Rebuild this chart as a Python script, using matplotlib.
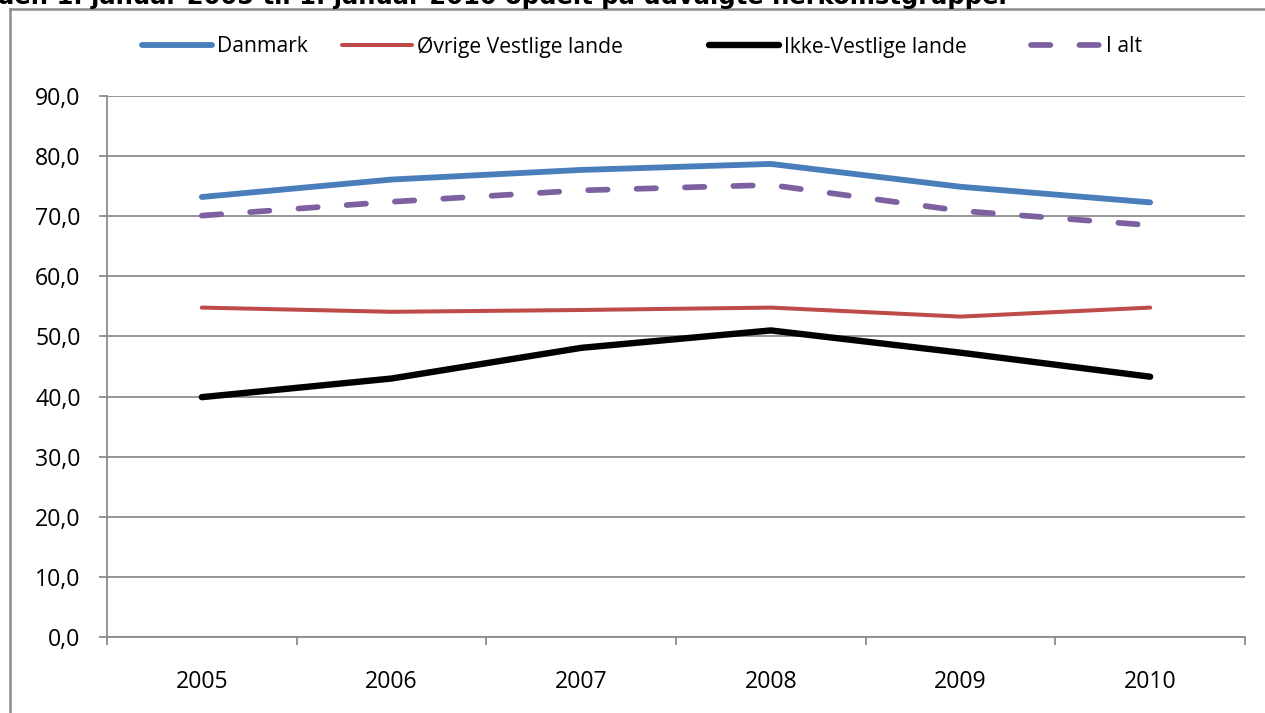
import matplotlib
matplotlib.use("Agg")
import matplotlib.pyplot as plt
from matplotlib.lines import Line2D

years = ["2005", "2006", "2007", "2008", "2009", "2010"]
danmark = [73.2, 76.1, 77.7, 78.7, 74.9, 72.3]
ovrige = [54.8, 54.1, 54.4, 54.8, 53.3, 54.8]
ikke_vestlige = [39.9, 43.0, 48.1, 51.0, 47.3, 43.3]
i_alt = [70.1, 72.4, 74.3, 75.2, 70.9, 68.5]
series_names = ["Danmark", "Øvrige Vestlige lande", "Ikke-Vestlige lande", "I alt"]
yticks = [0, 10, 20, 30, 40, 50, 60, 70, 80, 90]
title = "den 1. januar 2005 til 1. januar 2010 opdelt på udvalgte herkomstgrupper"

W, H = 1265, 713
fig = plt.figure(figsize=(W / 100, H / 100), dpi=100)
fig.patch.set_facecolor("white")

font = "Open Sans"
grid_c = "#8c8c8c"

# outer chart frame (left & top only visible)
fig.add_artist(Line2D([10 / W, 10 / W], [0, 1 - 9 / H], transform=fig.transFigure,
                      color=grid_c, lw=1.8))
fig.add_artist(Line2D([10 / W, 1], [1 - 9 / H, 1 - 9 / H], transform=fig.transFigure,
                      color=grid_c, lw=1.8))

# cut-off title (as in the reference, only its lower part is visible)
fig.text(-3 / W, 1 - 4 / H, title, fontsize=17.5, fontweight="bold",
         family="DejaVu Sans", va="baseline", ha="left", color="black")

ax = fig.add_axes([107 / W, (H - 637) / H, (1245 - 107) / W, (637 - 96) / H])
x = list(range(len(years)))

lines = []
lines += ax.plot(x, danmark, color="#4A7EBB", lw=4.2, solid_capstyle="round",
                 solid_joinstyle="round", label=series_names[0], zorder=3)
lines += ax.plot(x, ovrige, color="#BE4B48", lw=2.9, solid_capstyle="round",
                 solid_joinstyle="round", label=series_names[1], zorder=3)
lines += ax.plot(x, ikke_vestlige, color="black", lw=4.6, solid_capstyle="round",
                 solid_joinstyle="round", label=series_names[2], zorder=3)
lines += ax.plot(x, i_alt, color="#7D60A0", lw=4.1, dashes=(3.4, 5.1),
                 dash_capstyle="round", label=series_names[3], zorder=3)

ax.set_xlim(-0.5, len(years) - 0.5)
ax.set_ylim(0, 90)
ax.set_yticks(yticks)
ax.set_yticklabels([f"{v:.1f}".replace(".", ",") for v in yticks])
ax.set_xticks(x)
ax.set_xticklabels(years)
ax.set_xticks([i - 0.5 for i in range(len(years) + 1)], minor=True)

ax.yaxis.grid(True, color=grid_c, lw=1.3)
ax.set_axisbelow(True)
for s in ["top", "right"]:
    ax.spines[s].set_visible(False)
for s in ["left", "bottom"]:
    ax.spines[s].set_color(grid_c)
    ax.spines[s].set_linewidth(1.3)

ax.tick_params(axis="y", length=6, width=1.3, color=grid_c, pad=13)
ax.tick_params(axis="x", which="major", length=0, pad=24)
ax.tick_params(axis="x", which="minor", length=6, width=1.3, color=grid_c)
for lab in ax.get_xticklabels() + ax.get_yticklabels():
    lab.set_fontsize(16.7)
    lab.set_family(font)
    lab.set_color("black")

# legend: one entry per legend box, placed like the reference
leg_x = [142, 342, 709, 1031]
for ln, lx in zip(lines, leg_x):
    lg = fig.legend(handles=[ln], loc="center left",
                    bbox_to_anchor=(lx / W, 1 - 47 / H), frameon=False,
                    borderpad=0, borderaxespad=0, handlelength=3.3,
                    handletextpad=0.25, prop={"family": font, "size": 15.2})

fig.savefig("out.png", dpi=100, facecolor="white")
